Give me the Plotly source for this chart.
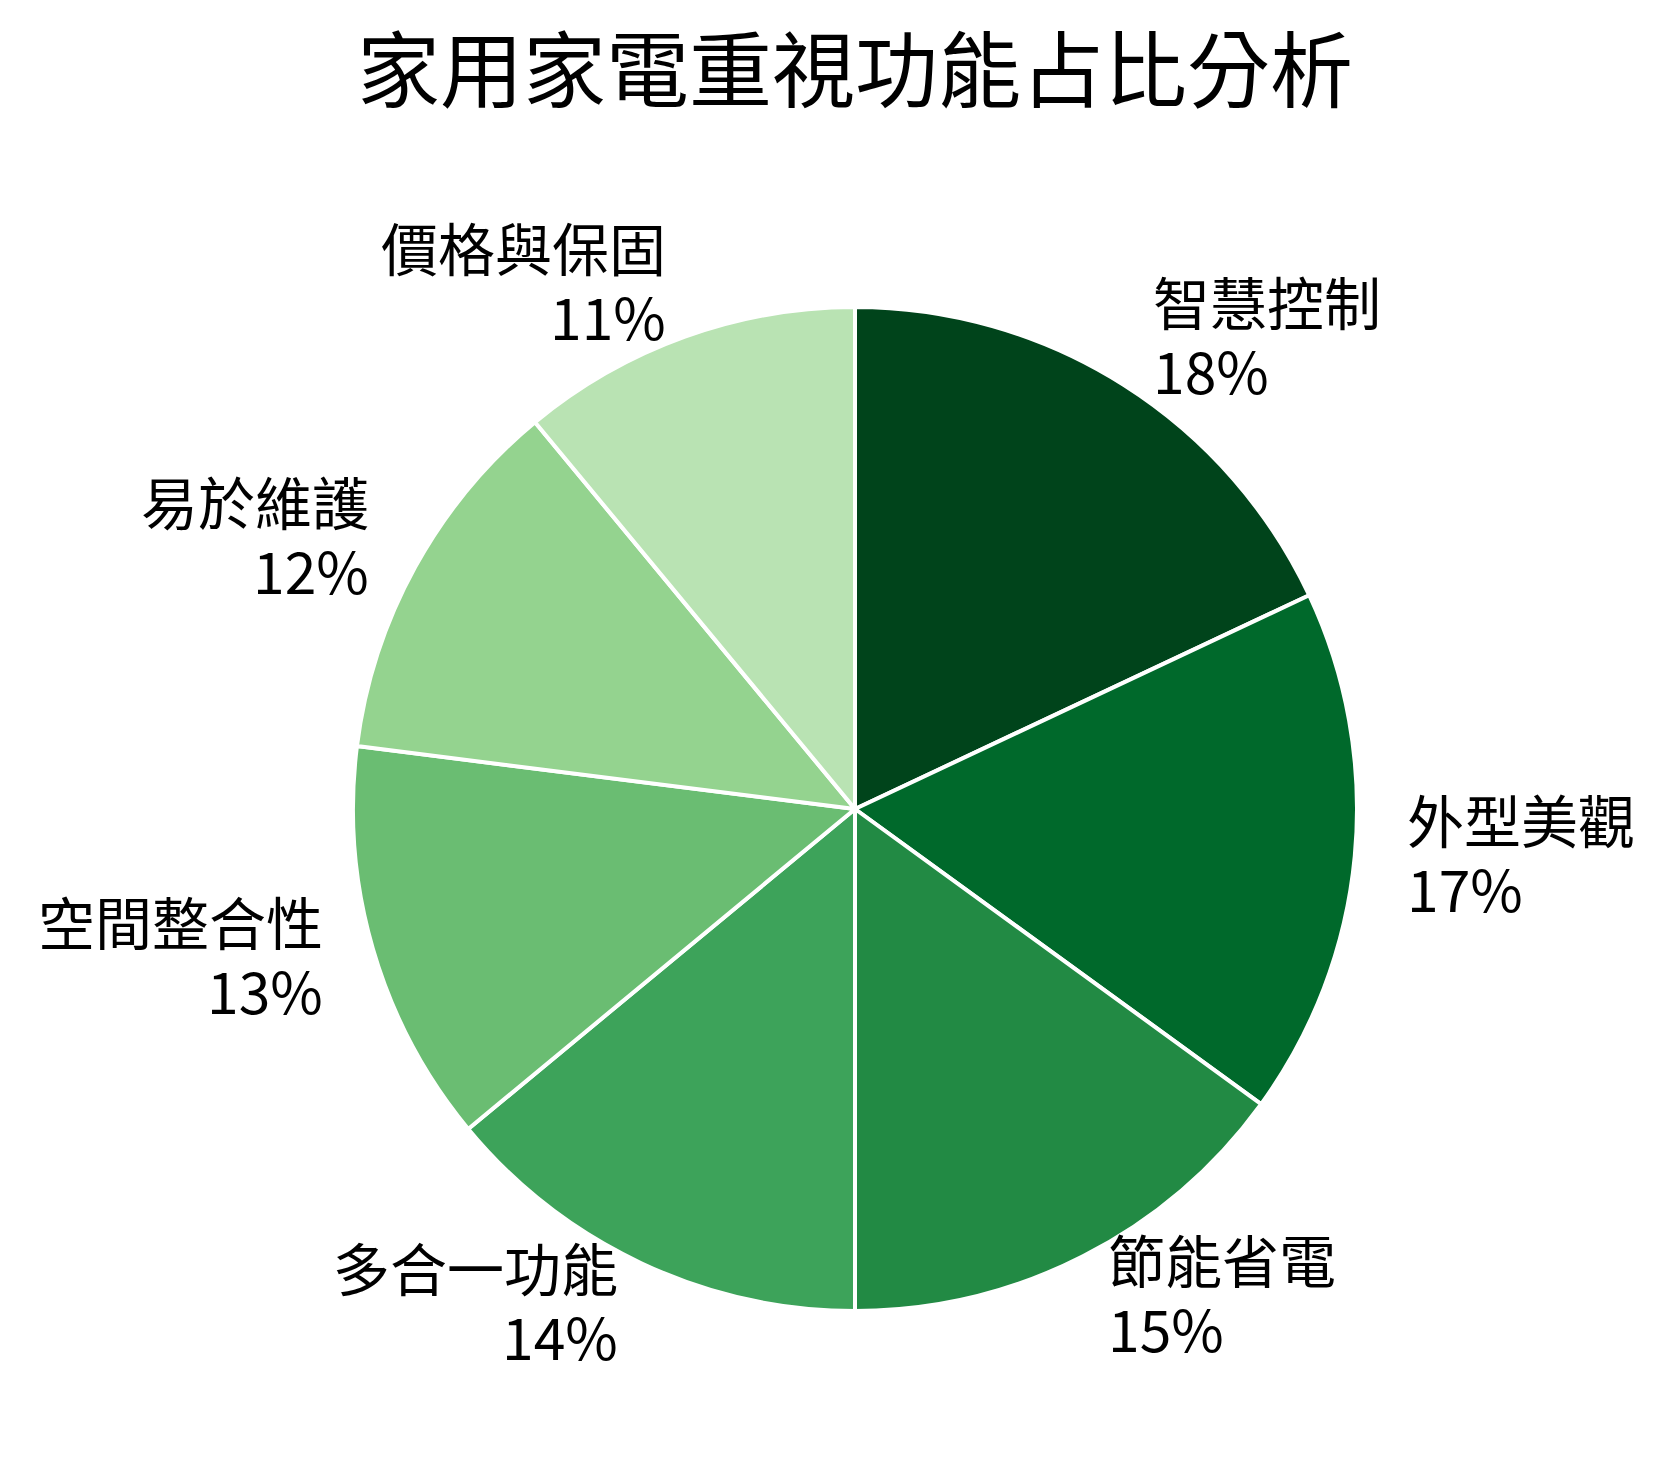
import numpy as np
import plotly.graph_objects as go

labels = ["智慧控制", "外型美觀", "節能省電", "多合一功能", "空間整合性", "易於維護", "價格與保固"]
values = [18, 17, 15, 14, 13, 12, 11]
colors = ["#00441b", "#00692b", "#228a44", "#3da35a", "#6abd72", "#94d38f", "#b9e3b3"]

W, H = 1667, 1468
cx, cy, R = 847, 801, 502   # pie centre and radius in pixels

fig = go.Figure()
fig.add_trace(go.Pie(labels=labels,
                     values=values,
                     sort=False,
                     direction="clockwise",
                     rotation=0,
                     marker=dict(colors=colors, line=dict(color="white", width=4)),
                     textinfo="none",
                     hoverinfo="label+percent",
                     domain=dict(x=[(cx - R) / W, (cx + R) / W],
                                 y=[1 - (cy + R) / H, 1 - (cy - R) / H]),
                     showlegend=False))

# labels placed outside like matplotlib (label distance 1.1), two lines each
total = sum(values)
start = 90.0
annotations = []
for lab, v in zip(labels, values):
    mid = np.deg2rad(start - v / total * 180)
    start -= v / total * 360
    x = cx + 1.1 * R * np.cos(mid)
    y = cy - 1.1 * R * np.sin(mid)
    side = "left" if np.cos(mid) > 0 else "right"
    for txt, dy in [(lab, 43), (f"{v / total * 100:.0f}%", -26)]:
        annotations.append(dict(x=x / W, y=1 - y / H, xref="paper", yref="paper",
                                text=txt, showarrow=False, yshift=dy,
                                xanchor=side, yanchor="middle", height=62,
                                font=dict(size=57, color="black")))

fig.update_layout(width=W, height=H,
                  paper_bgcolor="white",
                  font=dict(family="Noto Sans CJK TC"),
                  title=dict(text="家用家電重視功能占比分析",
                             x=cx / W, y=1 - 64 / H, xanchor="center", yanchor="middle",
                             font=dict(size=83, color="black")),
                  annotations=annotations,
                  margin=dict(l=0, r=0, t=0, b=0))

fig.write_html("out.html")
